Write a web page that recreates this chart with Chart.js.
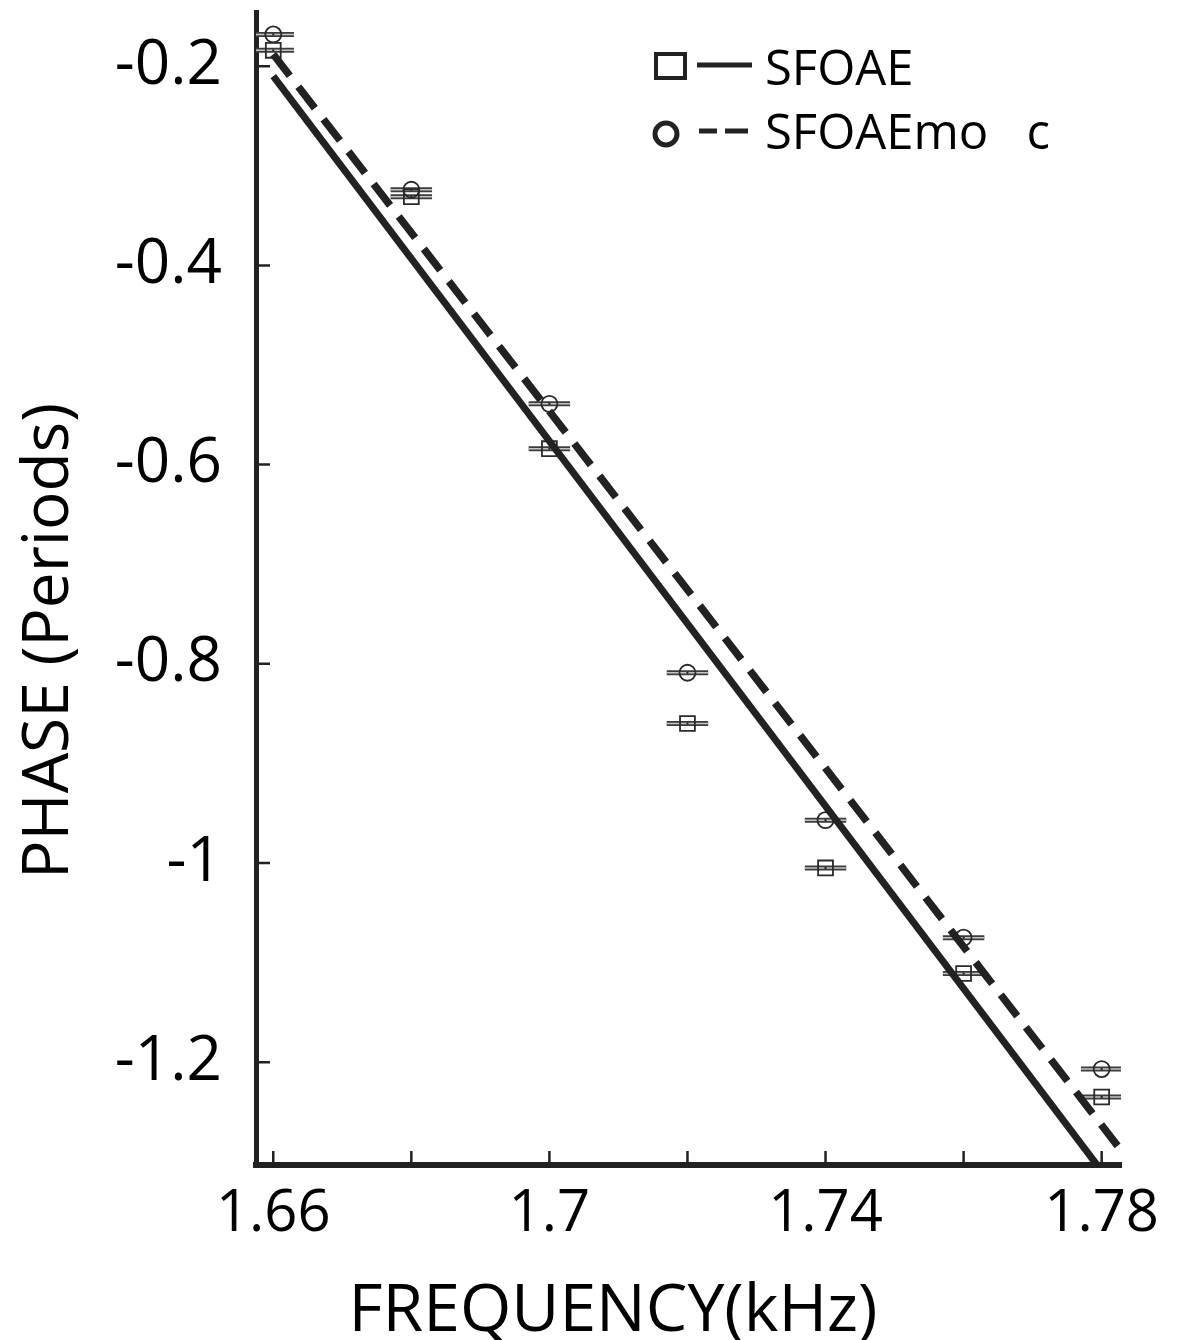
<!DOCTYPE html>
<html lang="en">
<head>
<meta charset="UTF-8">
<title>PHASE vs FREQUENCY</title>
<style>
    body { margin: 0; background: #fff; }
    .wrap { width: 1188px; height: 1340px; }
</style>
</head>
<body>
<div class="wrap"><canvas id="chart"></canvas></div>

<script src="https://cdn.jsdelivr.net/npm/chart.js"></script>
<script>
    // measured points (kHz, periods)
    const freq = [1.66, 1.68, 1.70, 1.72, 1.74, 1.76, 1.78];
    const sfoae = [-0.184, -0.331, -0.584, -0.860, -1.005, -1.111, -1.235];
    const sfoaeMoc = [-0.168, -0.324, -0.539, -0.809, -0.957, -1.075, -1.207];
    const freqErr = [0.003, 0.003, 0.003, 0.003, 0.003, 0.003, 0.003];

    // fitted lines (end points, clipped by the axes)
    const fitFreq = [1.66, 1.79];
    const fitSfoae = [-0.210, -1.401];
    const fitMoc = [-0.188, -1.353];

    const xTicks = [1.66, 1.68, 1.70, 1.72, 1.74, 1.76, 1.78];
    const xLabels = [1.66, 1.70, 1.74, 1.78];
    const yTicks = [-1.2, -1.0, -0.8, -0.6, -0.4, -0.2];

    const ink = '#222';
    const family = '"Open Sans", sans-serif';

    function pts(xs, ys) {
        return xs.map((x, i) => ({ x: x, y: ys[i] }));
    }

    // horizontal error bars + centre dots, under the markers
    const errorBars = {
        id: 'errorBars',
        beforeDatasetsDraw(chart) {
            const { ctx, chartArea: a, scales: { x, y } } = chart;
            ctx.save();
            ctx.beginPath();
            ctx.rect(a.left, a.top, a.right - a.left, a.bottom - a.top);
            ctx.clip();
            [sfoae, sfoaeMoc].forEach(series => {
                series.forEach((v, i) => {
                    const x0 = x.getPixelForValue(freq[i] - freqErr[i]);
                    const x1 = x.getPixelForValue(freq[i] + freqErr[i]);
                    const py = y.getPixelForValue(v);
                    ctx.beginPath();
                    ctx.moveTo(x0, py);
                    ctx.lineTo(x1, py);
                    ctx.lineWidth = 5;
                    ctx.strokeStyle = '#3c3c3c';
                    ctx.stroke();
                    ctx.lineWidth = 1.5;
                    ctx.strokeStyle = '#c4c4c4';
                    ctx.stroke();
                    ctx.fillStyle = '#222';
                    ctx.fillRect(x.getPixelForValue(freq[i]) - 1, py - 1, 2, 2);
                });
            });
            ctx.restore();
        }
    };

    // inward ticks, axis titles and the legend
    const decorations = {
        id: 'decorations',
        afterDraw(chart) {
            const { ctx, chartArea: a, scales: { x, y } } = chart;
            ctx.save();
            ctx.strokeStyle = ink;
            ctx.lineWidth = 2.5;
            ctx.beginPath();
            xTicks.forEach(v => {
                const px = x.getPixelForValue(v);
                ctx.moveTo(px, a.bottom);
                ctx.lineTo(px, a.bottom - 14);
            });
            yTicks.forEach(v => {
                const py = y.getPixelForValue(v);
                ctx.moveTo(a.left, py);
                ctx.lineTo(a.left + 14, py);
            });
            ctx.stroke();

            ctx.fillStyle = '#000';
            ctx.textBaseline = 'alphabetic';
            ctx.textAlign = 'center';
            ctx.font = '66px ' + family;
            ctx.fillText('FREQUENCY(kHz)', 613, 1331);
            ctx.font = '64px ' + family;
            ctx.save();
            ctx.translate(68, 641);
            ctx.rotate(-Math.PI / 2);
            ctx.fillText('PHASE (Periods)', 0, 0);
            ctx.restore();

            // legend
            ctx.strokeStyle = ink;
            ctx.lineWidth = 4;
            ctx.strokeRect(656, 54, 29, 24);
            ctx.beginPath();
            ctx.arc(666, 134, 11, 0, Math.PI * 2);
            ctx.lineWidth = 5;
            ctx.stroke();
            ctx.beginPath();
            ctx.moveTo(697, 65);
            ctx.lineTo(752, 65);
            ctx.moveTo(699, 131);
            ctx.lineTo(717, 131);
            ctx.moveTo(725, 131);
            ctx.lineTo(748, 131);
            ctx.stroke();
            ctx.textAlign = 'left';
            ctx.font = '49px ' + family;
            ctx.fillText('SFOAE', 765, 85);
            ctx.fillText('SFOAEmo   c', 765, 149);
            ctx.restore();
        }
    };

    Chart.defaults.font.family = family;
    Chart.defaults.color = '#000';

    new Chart(document.getElementById('chart'), {
        type: 'scatter',
        data: {
            datasets: [
                {
                    label: 'SFOAE fit',
                    data: pts(fitFreq, fitSfoae),
                    showLine: true,
                    borderColor: ink,
                    borderWidth: 7,
                    borderCapStyle: 'butt',
                    pointRadius: 0,
                    order: 0
                },
                {
                    label: 'SFOAEmoc fit',
                    data: pts(fitFreq, fitMoc),
                    showLine: true,
                    borderColor: ink,
                    borderWidth: 7.5,
                    borderDash: [27, 14],
                    borderCapStyle: 'butt',
                    pointRadius: 0,
                    order: 0
                },
                {
                    label: 'SFOAE',
                    data: pts(freq, sfoae),
                    pointStyle: 'rect',
                    pointRadius: 10.5,
                    borderColor: '#2a2a2a',
                    borderWidth: 1.8,
                    backgroundColor: 'rgba(0,0,0,0)',
                    order: 1
                },
                {
                    label: 'SFOAEmoc',
                    data: pts(freq, sfoaeMoc),
                    pointStyle: 'circle',
                    pointRadius: 8,
                    borderColor: '#2a2a2a',
                    borderWidth: 1.8,
                    backgroundColor: 'rgba(0,0,0,0)',
                    order: 1
                }
            ]
        },
        options: {
            responsive: true,
            maintainAspectRatio: false,
            animation: false,
            events: [],
            layout: { padding: { left: 0, top: 11, right: 67, bottom: 0 } },
            plugins: {
                legend: { display: false },
                tooltip: { enabled: false }
            },
            scales: {
                x: {
                    type: 'linear',
                    min: 1.6575,
                    max: 1.7828,
                    grid: { display: false, drawTicks: false },
                    border: { display: true, width: 6, color: ink },
                    afterBuildTicks: s => { s.ticks = xTicks.map(v => ({ value: v })); },
                    afterFit: s => {
                        s.height = 175;
                        s.paddingLeft = 0;
                        s.paddingRight = 0;
                        s.paddingTop = 0;
                        s.paddingBottom = 0;
                    },
                    ticks: {
                        autoSkip: false,
                        maxRotation: 0,
                        padding: 20,
                        font: { size: 58, lineHeight: 1 },
                        callback: v => xLabels.includes(v) ? String(v) : ''
                    }
                },
                y: {
                    type: 'linear',
                    min: -1.3033,
                    max: -0.1458,
                    grid: { display: false, drawTicks: false },
                    border: { display: true, width: 5, color: ink },
                    afterBuildTicks: s => { s.ticks = yTicks.map(v => ({ value: v })); },
                    afterFit: s => {
                        s.width = 256;
                        s.paddingLeft = 0;
                        s.paddingRight = 0;
                        s.paddingTop = 0;
                        s.paddingBottom = 0;
                    },
                    ticks: {
                        autoSkip: false,
                        padding: 34,
                        font: { size: 62, lineHeight: 1 },
                        callback: v => String(v)
                    }
                }
            }
        },
        plugins: [errorBars, decorations]
    });
</script>
</body>
</html>
